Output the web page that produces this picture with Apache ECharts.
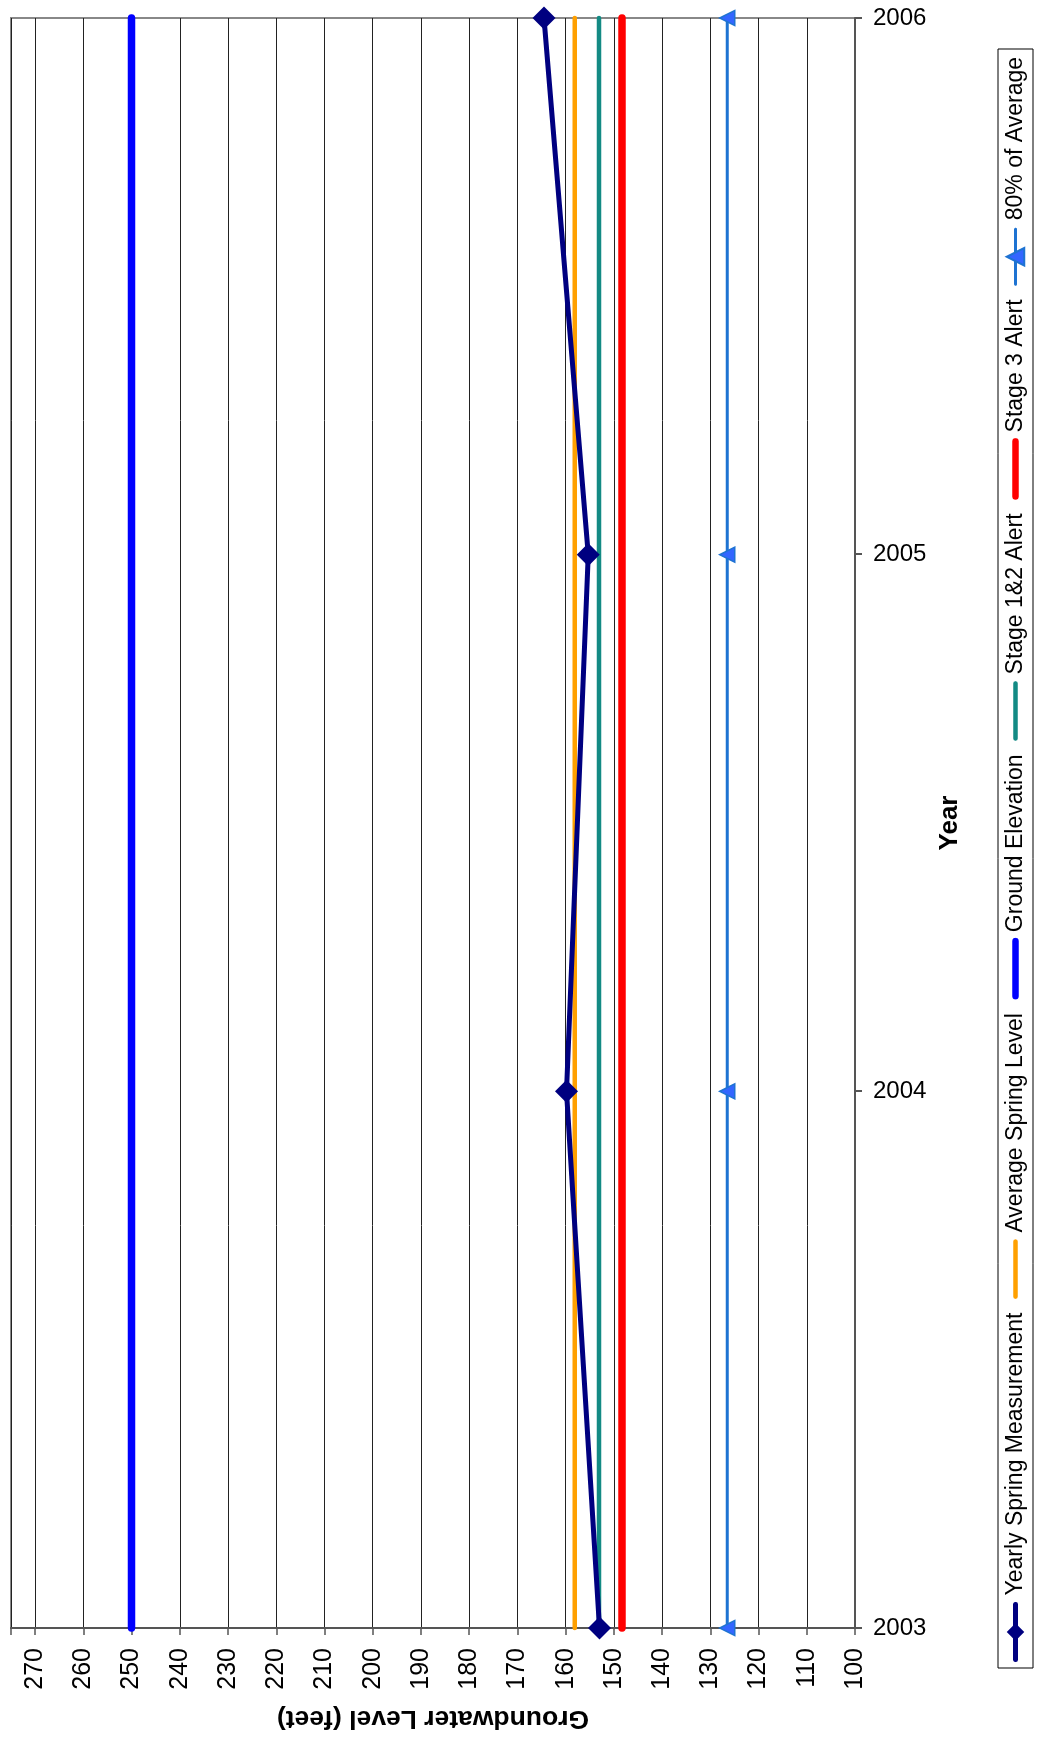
<!DOCTYPE html>
<html><head><meta charset="utf-8">
<script src="https://cdn.jsdelivr.net/npm/echarts@6/dist/echarts.min.js"></script>
<style>
html,body{margin:0;padding:0;background:#fff;overflow:hidden;width:1037px;height:1742px;}
#chart{position:absolute;left:0;top:0;width:1742px;height:1037px;transform-origin:0 0;transform:translateY(1742px) rotate(-90deg);}
</style></head><body><div id="chart"></div>
<script>
// Data (chart is drawn rotated 90° counter-clockwise)
const years = [2003, 2004, 2005, 2006];
const yearlySpring = [153.0, 159.8, 155.3, 164.5];
const averageSpring = [158.1, 158.1, 158.1, 158.1];
const groundElevation = [250, 250, 250, 250];
const stage12Alert = [153.1, 153.1, 153.1, 153.1];
const stage3Alert = [148.3, 148.3, 148.3, 148.3];
const eightyPctAverage = [126.5, 126.5, 126.5, 126.5];
const levelTicks = [100, 110, 120, 130, 140, 150, 160, 170, 180, 190, 200, 210, 220, 230, 240, 250, 260, 270];
const seriesNames = ['Yearly Spring Measurement', 'Average Spring Level', 'Ground Elevation', 'Stage 1&2 Alert', 'Stage 3 Alert', '80% of Average'];

const FONT = "'Liberation Sans', Arial, sans-serif";
const pairs = arr => years.map((y, i) => [y, arr[i]]);

const chart = echarts.init(document.getElementById('chart'), null, {renderer: 'canvas'});

const styles = [
  {color: '#000080', width: 5, symbol: 'diamond', size: 23, fill: '#000080', z: 10},
  {color: '#FFA000', width: 4.5, symbol: 'none', z: 3},
  {color: '#0000FF', width: 7.5, symbol: 'none', z: 3},
  {color: '#138A84', width: 4.5, symbol: 'none', z: 3},
  {color: '#FF0000', width: 7.5, symbol: 'none', z: 3},
  {color: '#1E73D2', width: 3, symbol: 'triangle', size: 15, fill: '#3366FF', z: 4}
];
const datasets = [yearlySpring, averageSpring, groundElevation, stage12Alert, stage3Alert, eightyPctAverage];

const series = seriesNames.map((name, i) => {
  const s = styles[i];
  return {
    name: name,
    type: 'line',
    data: pairs(datasets[i]),
    symbol: s.symbol,
    symbolSize: s.size || 0,
    showSymbol: s.symbol !== 'none',
    z: s.z,
    lineStyle: {color: s.color, width: s.width, cap: 'round', join: 'round'},
    itemStyle: {color: s.fill || s.color, borderColor: s.color, borderWidth: s.symbol === 'triangle' ? 1.5 : 0},
    emphasis: {disabled: true},
    animation: false
  };
});

const option = {
  backgroundColor: '#ffffff',
  animation: false,
  grid: {left: 114, right: 18, top: 11, bottom: 182, show: true, borderColor: '#888888', borderWidth: 2, backgroundColor: '#ffffff'},
  legend: {
    left: 74, top: 998,
    orient: 'horizontal',
    padding: [6, 8, 6, 6],
    borderColor: '#000000', borderWidth: 1,
    itemWidth: 55, itemHeight: 22, itemGap: 13.7,
    textStyle: {fontFamily: FONT, fontSize: 23, color: '#000000', padding: [0, 0, 0, 4]},
    data: seriesNames.map((n, i) => ({
      name: n,
      lineStyle: {width: Math.min(styles[i].width, 6.5), cap: 'round'},
      itemStyle: styles[i].symbol === 'none' ? {opacity: 0} : {}
    })),
    selectedMode: false
  },
  xAxis: {
    type: 'value', min: 2003, max: 2006, interval: 1,
    name: 'Year', nameLocation: 'middle', nameGap: 82,
    nameTextStyle: {fontFamily: FONT, fontSize: 26, fontWeight: 'bold', color: '#000'},
    axisLine: {show: true, lineStyle: {color: '#555555', width: 2}},
    axisTick: {show: true, inside: false, length: 7, lineStyle: {color: '#555555', width: 2}},
    axisLabel: {rotate: -90, margin: 18, fontFamily: FONT, fontSize: 24, color: '#000', formatter: v => String(v)},
    splitLine: {show: false}
  },
  yAxis: {
    type: 'value', min: 100, max: 275, interval: 10,
    name: 'Groundwater Level (feet)', nameLocation: 'middle', nameGap: 77,
    nameTextStyle: {fontFamily: FONT, fontSize: 26.5, fontWeight: 'bold', color: '#000'},
    axisLine: {show: true, lineStyle: {color: '#555555', width: 2}},
    axisTick: {show: true, inside: false, length: 7, lineStyle: {color: '#555555', width: 1.5}},
    axisLabel: {margin: 20, fontFamily: FONT, fontSize: 25, color: '#000',
      formatter: v => (levelTicks.indexOf(v) >= 0 ? String(v) : '')},
    splitLine: {show: true, lineStyle: {color: '#222222', width: 1}}
  },
  series: series
};
chart.setOption(option);
</script></body></html>
